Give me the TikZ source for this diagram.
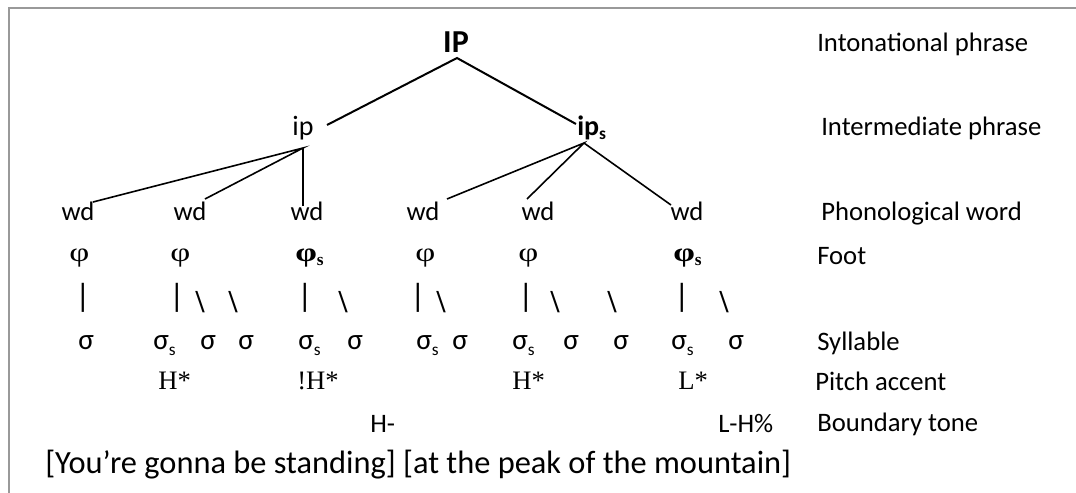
\documentclass[tikz,border=0pt]{standalone}
\usepackage{fontspec}
\setmainfont{Carlito}
\newfontfamily\tms{Liberation Serif}
\usetikzlibrary{calc}
\newcommand\fsz[1]{\fontsize{#1}{#1}\selectfont}
\newcommand\subs[2]{\raisebox{-#1}{\fsz{13}#2}}
\newcommand\phig{\scalebox{1.3}[1]{φ}}
\begin{document}
\begin{tikzpicture}[x=0.75pt,y=-0.75pt,
  lab/.style={anchor=base west,inner sep=0pt,font=\fsz{20}},
  tr/.style={anchor=base,inner sep=0pt,font=\fsz{20}},
  trl/.style={anchor=base west,inner sep=0pt,font=\fsz{20}},
  syl/.style={anchor=base west,inner sep=0pt,font=\fsz{22}},
  tml/.style={anchor=base west,inner sep=0pt,font=\tms\fsz{20}},
  bar/.style={anchor=south,inner sep=0pt,font=\tms\bfseries\fsz{24}},
  ln/.style={line width=1.2pt},
  lnb/.style={line width=1.5pt},
  frame/.style={draw=black!40,line width=1.2pt}]
\useasboundingbox (0,0) rectangle (1076,493);
\fill[white] (0,0) rectangle (1076,493);
\draw[frame] (9,493) -- (9,8) -- (1076,8);
% tree
\node[tr,font=\bfseries\fsz{24}] (IP) at (456,52) {IP};
\node[tr,font=\fsz{21}] (ip) at (303,135) {ip};
\node[trl,font=\bfseries\fsz{21}] (ips) at (577,135) {ip\subs{3.5pt}{s}};
\node[tr] (wd1) at (78,220) {wd};
\node[tr] (wd2) at (190,220) {wd};
\node[tr] (wd3) at (307,220) {wd};
\node[tr] (wd4) at (423,220) {wd};
\node[tr] (wd5) at (538,220) {wd};
\node[tr] (wd6) at (687,220) {wd};
\coordinate (IPa) at ($(IP.base)+(1,6)$);
\coordinate (ipa) at ($(ip.base)+(0,13)$);
\coordinate (ipsa) at ($(ips.base west)+(7,8)$);
\draw[lnb] ($(ip.base)+(24,-10)$) -- (IPa) -- ($(ips.base west)+(-1,-11)$);
\draw[ln] ($(wd1.base)+(15,-18)$) -- (ipa) -- ($(wd2.base)+(15,-21)$);
\draw[ln] (ipa) -- ($(wd3.base -| ipa)+(0,-14)$);
\draw[ln] ($(wd4.base)+(24,-21)$) -- (ipsa) -- ($(wd5.base)+(-11,-21)$);
\draw[ln] (ipsa) -- ($(wd6.base)+(-16,-15)$);
% feet
\node[tml] (f1) at (69,261) {\phig};
\node[tml] (f2) at (170,261) {\phig};
\node[tml,font=\tms\bfseries\fsz{20}] (f3) at (295,261) {\phig\subs{3pt}{s}};
\node[tml] (f4) at (415,261) {\phig};
\node[tml] (f5) at (518,261) {\phig};
\node[tml,font=\tms\bfseries\fsz{20}] (f6) at (673,261) {\phig\subs{3pt}{s}};
% bars
\foreach \n/\x/\c in {b1/83/|, b2/177/|, b3/200/\textbackslash, b4/233/\textbackslash,
  b5/305/|, b6/343/\textbackslash, b7/418/|, b8/441/\textbackslash, b9/526/|,
  b10/555/\textbackslash, b11/612/\textbackslash, b12/682/|, b13/724/\textbackslash}
  \node[bar] (\n) at (\x,313) {\c};
% syllables
\foreach \n/\x/\t in {s1/78/σ, s2/153/σ\subs{4.5pt}{s}, s3/200/σ, s4/238/σ, s5/298/σ\subs{4.5pt}{s},
  s6/347/σ, s7/416/σ\subs{4.5pt}{s}, s8/452/σ, s9/512/σ\subs{4.5pt}{s}, s10/563/σ, s11/613/σ,
  s12/671/σ\subs{4.5pt}{s}, s13/728/σ}
  \node[syl] (\n) at (\x,349) {\t};
% pitch accents
\node[tml] (pa1) at (158,389) {H*};
\node[tml] (pa2) at (297,389) {!H*};
\node[tml] (pa3) at (512,389) {H*};
\node[tml] (pa4) at (678,389) {L*};
% boundary tones
\node[trl] (bt1) at (370,432) {H-};
\node[trl] (bt2) at (718,432) {L-H\%};
% sentence
\node[trl,font=\fsz{24.3}] (sent) at (45,473) {[You’re gonna be standing] [at the peak of the mountain]};
% right labels
\node[lab] (L1) at (817,51) {Intonational phrase};
\node[lab] (L2) at (821,135) {Intermediate phrase};
\node[lab] (L3) at (821,220) {Phonological word};
\node[lab] (L4) at (817,264) {Foot};
\node[lab] (L5) at (817,350) {Syllable};
\node[lab] (L6) at (815,390) {Pitch accent};
\node[lab] (L7) at (817,431) {Boundary tone};
\end{tikzpicture}
\end{document}
